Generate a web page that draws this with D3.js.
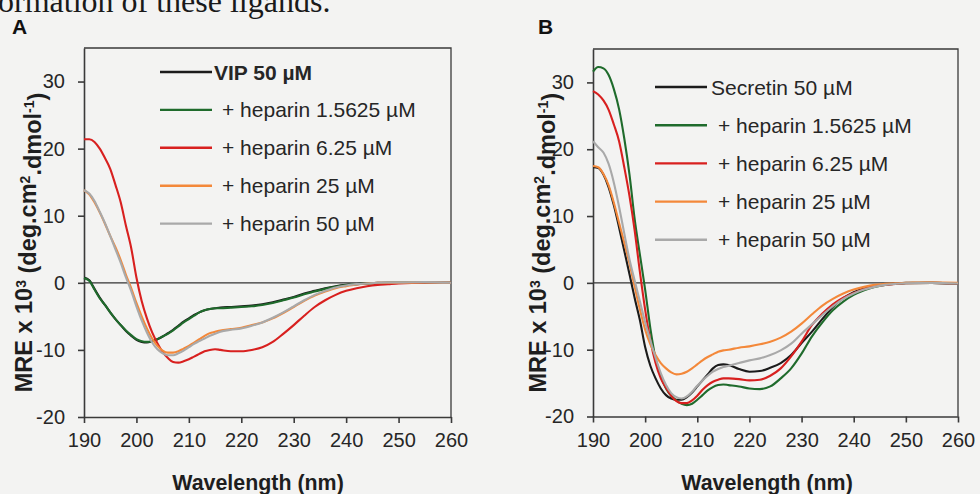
<!DOCTYPE html>
<html>
<head>
<meta charset="utf-8">
<script src="https://cdn.jsdelivr.net/npm/d3@7"></script>
<style>
  html, body { margin: 0; padding: 0; background: #f3f3f2; }
  svg { display: block; }
  text { fill: #262626; }
</style>
</head>
<body>
<script>
// Far-UV CD spectra of VIP (A) and secretin (B) titrated with heparin.
const wavelengths = [190,191,192,193,194,195,196,197,198,199,200,201,202,203,204,205,206,207,208,209,210,211,212,213,214,215,216,
  218,220,222,224,226,228,230,232,234,236,238,240,242,244,246,248,250,255,260];

const xTicks = [190, 200, 210, 220, 230, 240, 250, 260];
const yTicks = [-20, -10, 0, 10, 20, 30];

const seriesLabelsA = ["VIP 50 µM", "+ heparin 1.5625 µM", "+ heparin 6.25 µM", "+ heparin 25 µM", "+ heparin 50 µM"];
const seriesLabelsB = ["Secretin 50 µM", "+ heparin 1.5625 µM", "+ heparin 6.25 µM", "+ heparin 25 µM", "+ heparin 50 µM"];
const seriesColors = ["#1b1b1b", "#1f6b2c", "#d8201f", "#f3883a", "#a9a9a9"];

// Panel A: VIP
const vipOnly = [0.8,0.4,-0.9,-2.2,-3.3,-4.4,-5.4,-6.3,-7.2,-7.9,-8.5,-8.8,-8.9,-8.7,-8.4,-8.0,-7.5,-7.0,-6.4,-5.8,-5.3,-4.8,-4.4,-4.1,-3.9,-3.8,-3.7,
  -3.6,-3.5,-3.4,-3.2,-2.9,-2.5,-2.1,-1.6,-1.2,-0.8,-0.5,-0.3,-0.2,-0.1,0,0,0,0,0];
const vipHep1_5625 = [0.7,0.3,-1.0,-2.3,-3.3,-4.4,-5.4,-6.3,-7.1,-7.8,-8.4,-8.7,-8.8,-8.7,-8.4,-8.0,-7.6,-7.1,-6.5,-5.9,-5.4,-4.9,-4.4,-4.1,-3.9,-3.8,-3.8,
  -3.7,-3.6,-3.5,-3.3,-3.0,-2.6,-2.2,-1.7,-1.3,-0.9,-0.6,-0.35,-0.2,-0.1,-0.05,0,0,0,0];
const vipHep6_25 = [21.4,21.4,21.0,20.0,18.6,17.0,14.6,12.0,8.5,5.2,0.8,-2.7,-5.3,-7.4,-9.0,-10.3,-11.2,-11.8,-11.9,-11.7,-11.4,-11.0,-10.6,-10.2,-10.0,-9.9,-10.0,
  -10.2,-10.2,-10.0,-9.6,-8.8,-7.6,-6.3,-4.9,-3.6,-2.6,-1.8,-1.2,-0.8,-0.5,-0.3,-0.2,-0.1,0,0];
const vipHep25 = [13.8,13.2,12.0,10.5,8.8,7.0,5.3,3.4,1.2,-0.8,-3.0,-5.0,-6.8,-8.3,-9.4,-10.1,-10.4,-10.4,-10.2,-9.8,-9.4,-8.9,-8.4,-7.9,-7.5,-7.3,-7.1,
  -6.9,-6.7,-6.3,-5.9,-5.3,-4.5,-3.6,-2.7,-1.9,-1.3,-0.8,-0.5,-0.25,-0.1,0,0,0,0.05,0];
const vipHep50 = [13.8,13.3,12.2,10.6,8.9,7.0,5.0,3.0,0.8,-1.2,-3.5,-5.6,-7.4,-8.9,-9.9,-10.5,-10.8,-10.8,-10.5,-10.1,-9.6,-9.1,-8.7,-8.3,-7.9,-7.6,-7.3,
  -7.0,-6.8,-6.4,-5.9,-5.2,-4.4,-3.5,-2.6,-1.8,-1.2,-0.7,-0.4,-0.2,-0.1,0,0.05,0.05,0.1,0];

// Panel B: secretin
const secOnly = [17.3,17.2,16.2,14.3,11.6,8.3,4.8,1.3,-2.3,-5.6,-9.6,-12.4,-14.3,-15.8,-16.8,-17.3,-17.5,-17.5,-17.1,-16.4,-15.5,-14.6,-13.7,-12.8,-12.3,-12.2,-12.3,
  -12.9,-13.3,-13.2,-12.7,-12.0,-10.8,-9.0,-7.3,-5.4,-3.6,-2.3,-1.4,-0.8,-0.45,-0.25,-0.1,0,0,-0.1];
const secHep1_5625 = [31.6,32.3,32.1,31.1,29.0,26.0,21.6,16.2,9.5,4.2,-1.0,-6.8,-11.3,-14.0,-15.8,-16.9,-17.6,-18.1,-18.3,-18.1,-17.5,-16.8,-16.1,-15.6,-15.3,-15.2,-15.3,
  -15.5,-15.8,-15.9,-15.5,-14.3,-12.8,-10.6,-8.0,-5.9,-4.1,-2.8,-1.8,-1.1,-0.6,-0.3,-0.15,-0.05,0,-0.1];
const secHep6_25 = [28.7,28.2,27.3,25.9,23.7,21.2,17.3,13.0,7.8,1.6,-4.0,-8.6,-12.0,-14.3,-15.7,-16.9,-17.7,-18.0,-18.0,-17.6,-16.9,-16.0,-15.3,-14.8,-14.5,-14.3,-14.3,
  -14.4,-14.6,-14.5,-13.9,-12.8,-11.0,-8.8,-6.3,-4.6,-3.2,-2.2,-1.5,-0.9,-0.5,-0.3,-0.15,-0.05,0,-0.1];
const secHep25 = [17.5,17.3,16.3,14.6,12.0,9.0,6.0,2.9,-0.6,-4.0,-7.0,-9.2,-10.8,-12.0,-12.8,-13.4,-13.7,-13.6,-13.3,-12.8,-12.2,-11.6,-11.1,-10.7,-10.3,-10.1,-10.0,
  -9.7,-9.5,-9.2,-8.8,-8.2,-7.3,-6.1,-4.7,-3.4,-2.4,-1.6,-1.0,-0.6,-0.3,-0.15,-0.05,0,0.1,0];
const secHep50 = [21.2,20.3,19.5,17.8,15.0,11.4,7.4,3.5,0.3,-2.8,-5.9,-8.6,-11.2,-13.5,-15.3,-16.5,-17.1,-17.3,-17.0,-16.3,-15.4,-14.6,-13.9,-13.3,-12.9,-12.6,-12.4,
  -12.0,-11.6,-11.3,-10.8,-10.1,-9.1,-7.6,-6.2,-4.8,-3.5,-2.4,-1.6,-1.0,-0.6,-0.3,-0.15,-0.05,0,-0.1];

const W = 980, H = 494;
const FONT = "'Liberation Sans', Arial, Helvetica, sans-serif";

const svg = d3.select("body").append("svg")
  .attr("width", W).attr("height", H)
  .style("font-family", FONT);

svg.append("rect").attr("width", W).attr("height", H).attr("fill", "#f3f3f2");

// running text of the page above the figure
svg.append("text")
  .attr("x", -2).attr("y", 12)
  .style("font-family", "'Liberation Serif', 'Times New Roman', serif")
  .style("font-size", "32px")
  .style("fill", "#1a1a1a")
  .text("ormation of these ligands.");

// plain hyphen-minus for negative tick values
const tickFmt = d => String(d);

function drawPanel(cfg) {
  const { left, right, top, bottom, letter, letterX, series, labels, legend, yTitleX, xTitleX } = cfg;

  const x = d3.scaleLinear().domain([190, 260]).range([left, right]);
  const y = d3.scaleLinear().domain([-20, 35]).range([bottom, top]);

  const g = svg.append("g");

  // panel letter
  g.append("text")
    .attr("x", letterX).attr("y", 34)
    .style("font-size", "21px").style("font-weight", "bold")
    .style("fill", "#111")
    .text(letter);

  // plot frame (top and right edges)
  g.append("path")
    .attr("d", `M${left},${top}H${right}V${bottom}`)
    .attr("fill", "none").attr("stroke", "#3a3a3a").attr("stroke-width", 1.3);

  // zero reference line
  g.append("line")
    .attr("x1", left).attr("x2", right)
    .attr("y1", y(0)).attr("y2", y(0))
    .attr("stroke", "#333").attr("stroke-width", 1.3);

  // axes
  const yAxis = d3.axisLeft(y).tickValues(yTicks).tickSize(6).tickSizeOuter(0).tickPadding(13)
    .tickFormat(tickFmt);
  const xAxis = d3.axisBottom(x).tickValues(xTicks).tickSize(6).tickSizeOuter(0).tickPadding(10)
    .tickFormat(tickFmt);

  const ya = g.append("g").attr("transform", `translate(${left},0)`).call(yAxis);
  const xa = g.append("g").attr("transform", `translate(0,${bottom})`).call(xAxis);
  [ya, xa].forEach(a => {
    a.select(".domain").attr("stroke", "#3a3a3a").attr("stroke-width", 1.6);
    a.selectAll(".tick line").attr("stroke", "#3a3a3a").attr("stroke-width", 1.6);
    a.selectAll(".tick text")
      .style("font-size", "20px").style("font-family", FONT).attr("fill", "#262626");
  });

  // spectra
  const line = d3.line()
    .x((d, i) => x(wavelengths[i]))
    .y(d => y(d))
    .curve(d3.curveMonotoneX);

  series.forEach((vals, k) => {
    g.append("path")
      .datum(vals)
      .attr("d", line)
      .attr("fill", "none")
      .attr("stroke", seriesColors[k])
      .attr("stroke-width", 2.1)
      .attr("stroke-linejoin", "round");
  });

  // legend
  labels.forEach((lab, k) => {
    const ly = legend.y0 + k * legend.dy;
    g.append("line")
      .attr("x1", legend.x1).attr("x2", legend.x2)
      .attr("y1", ly).attr("y2", ly)
      .attr("stroke", seriesColors[k]).attr("stroke-width", 2.4);
    g.append("text")
      .attr("x", k === 0 ? legend.tx0 : legend.tx)
      .attr("y", ly)
      .attr("dy", "0.36em")
      .style("font-size", "21px")
      .style("font-weight", k === 0 && legend.boldFirst ? "bold" : "normal")
      .text(lab);
  });

  // axis titles
  const yt = g.append("text")
    .attr("transform", `translate(${yTitleX},${(top + bottom) / 2 + 10}) rotate(-90)`)
    .attr("text-anchor", "middle")
    .style("font-size", "23.5px").style("font-weight", "bold").style("fill", "#1e1e1e");
  yt.append("tspan").text("MRE x 10");
  yt.append("tspan").attr("dy", "-0.45em").style("font-size", "14px").text("3");
  yt.append("tspan").attr("dy", "0.45em").text(" (deg.cm");
  yt.append("tspan").attr("dy", "-0.45em").style("font-size", "14px").text("2");
  yt.append("tspan").attr("dy", "0.45em").text(".dmol");
  yt.append("tspan").attr("dy", "-0.45em").style("font-size", "14px").text("-1");
  yt.append("tspan").attr("dy", "0.45em").text(")");

  g.append("text")
    .attr("x", xTitleX).attr("y", 490)
    .attr("text-anchor", "middle")
    .style("font-size", "21.4px").style("font-weight", "bold").style("fill", "#1e1e1e")
    .text("Wavelength (nm)");
}

drawPanel({
  left: 84, right: 451, top: 48, bottom: 417,
  letter: "A", letterX: 12,
  series: [vipOnly, vipHep1_5625, vipHep6_25, vipHep25, vipHep50],
  labels: seriesLabelsA,
  legend: { x1: 160, x2: 212, tx0: 214, tx: 222, y0: 72, dy: 37.9, boldFirst: true },
  yTitleX: 32, xTitleX: 258
});

drawPanel({
  left: 593, right: 958, top: 49, bottom: 416.5,
  letter: "B", letterX: 538,
  series: [secOnly, secHep1_5625, secHep6_25, secHep25, secHep50],
  labels: seriesLabelsB,
  legend: { x1: 655, x2: 707, tx0: 711, tx: 718, y0: 87, dy: 38.2, boldFirst: false },
  yTitleX: 546, xTitleX: 767
});
</script>
</body>
</html>
